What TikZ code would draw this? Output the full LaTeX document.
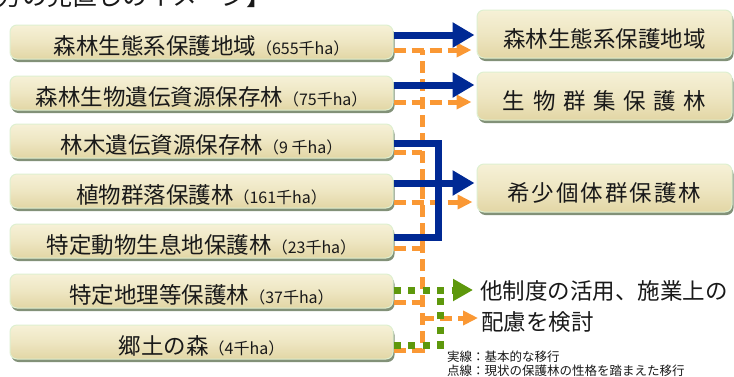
\documentclass[tikz,border=0pt]{standalone}
\usepackage{fontspec}
\setmainfont{Noto Sans CJK JP}
\usetikzlibrary{arrows.meta,shadows,calc}
\definecolor{bluec}{RGB}{0,41,148}
\definecolor{orc}{RGB}{250,152,52}
\definecolor{grc}{RGB}{94,152,12}
\definecolor{boxtop}{RGB}{246,241,215}
\definecolor{boxmid}{RGB}{238,230,194}
\definecolor{boxbot}{RGB}{226,214,165}
\definecolor{glow}{RGB}{222,240,208}
\definecolor{shadowc}{RGB}{130,145,120}
\definecolor{txt}{RGB}{25,25,25}
\newcommand{\haunit}[1]{{\fontsize{16}{18}\selectfont （#1千ha）}}
\begin{document}
\begin{tikzpicture}[x=1pt,y=1pt,
  boxbase/.style={rounded corners=7pt, top color=boxtop, bottom color=boxbot, middle color=boxmid,
    draw=glow, line width=1pt, text=txt,
    drop shadow={shadow xshift=1.5pt,shadow yshift=-3pt,fill=shadowc,opacity=1},
    inner sep=0pt, font=\fontsize{22.5}{24}\selectfont},
  lbox/.style={boxbase, minimum width=383pt, minimum height=34pt, text height=27pt, text depth=2pt},
  rbox/.style={boxbase, minimum width=255pt, minimum height=48pt, text height=29pt, text depth=2pt},
  bl/.style={draw=bluec, line width=7pt, line join=miter},
  ol/.style={draw=orc, line width=5pt, dash pattern=on 12pt off 6pt},
  gl/.style={draw=grc, line width=7pt, dash pattern=on 7pt off 7.5pt},
  btip/.style={-{Triangle[length=22pt,width=24pt]}},
  otip/.style={-{Triangle[length=15pt,width=14pt]}},
  gtip/.style={-{Triangle[length=20pt,width=21pt]}},
  sidetext/.style={anchor=west, inner sep=0pt, text=txt, font=\fontsize{22.5}{24}\selectfont, text height=19pt, text depth=2pt},
  legend/.style={anchor=west, inner sep=0pt, text=txt, font=\fontsize{12.5}{14}\selectfont},
]
\useasboundingbox (0,0) rectangle (734,-376);
\clip (0,0) rectangle (734,-376);
\fill[white] (0,0) rectangle (734,-376);

% title (cut off at top, as in the reference)
\node[anchor=west, inner sep=0pt, text=txt, font=\fontsize{25}{26}\selectfont, text height=19pt, text depth=2pt] (TT) at (-3,3) {方の見直しのイメージ】};

% left boxes
\node[lbox] (L1) at (201.5,-42) {森林生態系保護地域\haunit{655}};
\node[lbox] (L2) at (201.5,-93) {森林生物遺伝資源保存林\haunit{75}};
\node[lbox] (L3) at (201.5,-141) {林木遺伝資源保存林\haunit{9 }};
\node[lbox] (L4) at (201.5,-191) {植物群落保護林\haunit{161}};
\node[lbox] (L5) at (201.5,-241) {特定動物生息地保護林\haunit{23}};
\node[lbox] (L6) at (201.5,-291) {特定地理等保護林\haunit{37}};
\node[lbox] (L7) at (201.5,-342) {郷土の森\haunit{4}};

% right boxes
\node[rbox] (R1) at (604.5,-34) {森林生態系保護地域};
\node[rbox] (R2) at (604.5,-96) {生\kern7.6pt 物\kern7.6pt 群\kern7.6pt 集\kern7.6pt 保\kern7.6pt 護\kern7.6pt 林};
\node[rbox] (R3) at (604.5,-188) {希\kern2pt 少\kern2pt 個\kern2pt 体\kern2pt 群\kern2pt 保\kern2pt 護\kern2pt 林};

% side text and legend
\node[sidetext] (T1) at (480,-291) {他制度の活用、施業上の};
\node[sidetext] (T2) at (481,-322) {配慮を検討};
\node[legend] (LG1) at (447,-357) {実線：基本的な移行};
\node[legend] (LG2) at (447,-371) {点線：現状の保護林の性格を踏まえた移行};

% junction columns
\coordinate (oj) at (422,0);
\coordinate (bj) at (438.5,0);
\coordinate (gj) at (440,0);

% orange dashed
\draw[ol] ([yshift=-8pt]L7.east) -| ([yshift=-8pt]L1.east -| oj);
\draw[ol,otip,shorten >=5pt] ([yshift=-8pt]L1.east) -- ([yshift=-16pt]R1.west);
\draw[ol,otip,shorten >=5pt] ([yshift=-9pt]L2.east) -- ([yshift=-6pt]R2.west);
\draw[ol] ([yshift=-11pt]L3.east) -- ([yshift=-11pt]L3.east -| oj);
\draw[ol,otip,shorten >=4pt] ([yshift=-11pt]L4.east) -- ([yshift=-14pt]R3.west);
\draw[ol] ([yshift=-7pt]L5.east) -- ([yshift=-7pt]L5.east -| oj);
\draw[ol] ([yshift=-11pt]L6.east) -- ([yshift=-11pt]L6.east -| oj);
\draw[ol,otip,shorten >=3pt] ([yshift=4pt]T2.west -| oj) -- ([yshift=4pt]T2.west);

% blue solid
\draw[bl,btip,shorten >=2pt] ([yshift=7pt]L1.east) -- ([yshift=-1pt]R1.west);
\draw[bl,btip,shorten >=2pt] ([yshift=8pt]L2.east) -- ([yshift=11pt]R2.west);
\draw[bl] ([yshift=-2.5pt]L3.east) -| ([yshift=4pt]L5.east -| bj) -- ([yshift=4pt]L5.east);
\draw[bl,btip,shorten >=2pt] ([yshift=8pt]L4.east) -- ([yshift=5pt]R3.west);

% green dotted
\draw[gl] ([yshift=-3pt]L7.east) -| ([yshift=1pt]L6.east -| gj);
\draw[gl,gtip,shorten >=7pt] ([yshift=1pt]L6.east) -- ([yshift=1pt]T1.west);
\end{tikzpicture}
\end{document}
